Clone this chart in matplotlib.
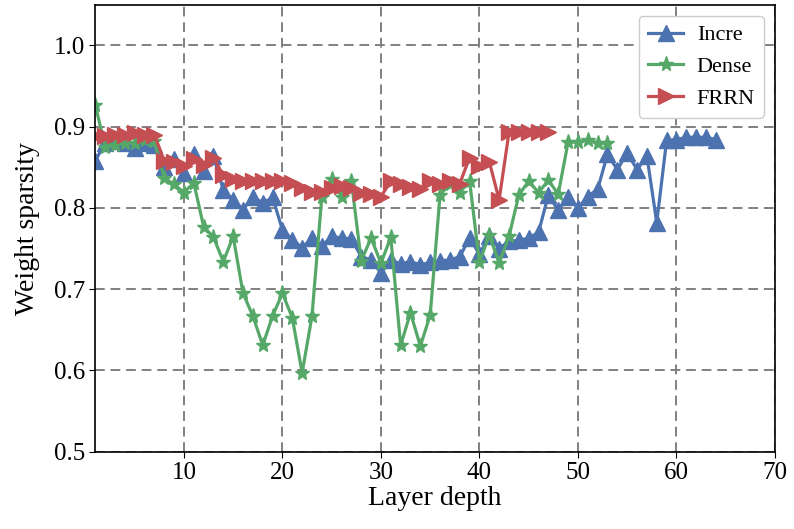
import matplotlib
matplotlib.use("Agg")
import matplotlib.pyplot as plt
import numpy as np

incre = [0.858, 0.880, 0.882, 0.880, 0.874, 0.880, 0.878, 0.850, 0.860, 0.843,
         0.866, 0.845, 0.864, 0.822, 0.810, 0.798, 0.814, 0.806, 0.813, 0.773,
         0.761, 0.751, 0.763, 0.753, 0.765, 0.763, 0.762, 0.740, 0.736, 0.720,
         0.736, 0.731, 0.734, 0.730, 0.733, 0.735, 0.736, 0.740, 0.763, 0.743,
         0.765, 0.750, 0.759, 0.760, 0.763, 0.770, 0.816, 0.797, 0.814, 0.800,
         0.814, 0.823, 0.866, 0.847, 0.868, 0.847, 0.864, 0.782, 0.883, 0.884,
         0.887, 0.887, 0.887, 0.884]
dense = [0.927, 0.875, 0.878, 0.880, 0.880, 0.884, 0.882, 0.837, 0.829, 0.819,
         0.831, 0.777, 0.764, 0.734, 0.765, 0.695, 0.667, 0.631, 0.667, 0.695,
         0.665, 0.597, 0.667, 0.814, 0.836, 0.814, 0.833, 0.735, 0.763, 0.732,
         0.764, 0.631, 0.671, 0.630, 0.668, 0.816, 0.830, 0.819, 0.833, 0.733,
         0.767, 0.732, 0.765, 0.816, 0.833, 0.819, 0.834, 0.817, 0.881, 0.881,
         0.884, 0.880, 0.880]
frrn = [0.888, 0.888, 0.890, 0.890, 0.892, 0.890, 0.890, 0.858, 0.857, 0.851,
        0.860, 0.853, 0.862, 0.840, 0.835, 0.833, 0.833, 0.833, 0.833, 0.833,
        0.831, 0.825, 0.820, 0.820, 0.825, 0.827, 0.825, 0.819, 0.817, 0.814,
        0.833, 0.830, 0.826, 0.823, 0.833, 0.830, 0.833, 0.830, 0.862, 0.852,
        0.857, 0.810, 0.893, 0.893, 0.893, 0.893, 0.893]

x_incre = np.arange(1, len(incre) + 1)
x_dense = np.arange(1, len(dense) + 1)
x_frrn = np.arange(1, len(frrn) + 1)

xticks = [10, 20, 30, 40, 50, 60, 70]
yticks = [0.5, 0.6, 0.7, 0.8, 0.9, 1.0]

plt.rcParams['font.family'] = ['Liberation Serif', 'DejaVu Serif']

fig = plt.figure(figsize=(7.94, 5.29), dpi=100)
ax = fig.add_axes([0.12, 0.146, 0.856, 0.845])

ax.plot(x_incre, incre, color='#4C72B0', marker='^', markersize=11, linewidth=2.3, label='Incre')
ax.plot(x_dense, dense, color='#55A868', marker='*', markersize=11, linewidth=2.3, label='Dense')
ax.plot(x_frrn, frrn, color='#C44E52', marker='>', markersize=11, linewidth=2.3, label='FRRN')

ax.set_xlim(1, 70)
ax.set_ylim(0.5, 1.05)
ax.set_xticks(xticks)
ax.set_yticks(yticks)
ax.set_yticklabels([f"{v:.1f}" for v in yticks])
ax.tick_params(labelsize=18, length=4)
ax.grid(True, linestyle=(0, (5, 3)), color='#808080', linewidth=1.4)
ax.set_axisbelow(True)
for s in ax.spines.values():
    s.set_color('black')
    s.set_linewidth(1.2)

ax.set_xlabel('Layer depth', fontsize=20, labelpad=1)
ax.set_ylabel('Weight sparsity', fontsize=20, labelpad=10)
ax.legend(loc='upper right', fontsize=16, framealpha=1.0, edgecolor='#cccccc',
          handlelength=1.6, handletextpad=0.6, borderaxespad=0.5)

fig.savefig('out.png', dpi=100)
